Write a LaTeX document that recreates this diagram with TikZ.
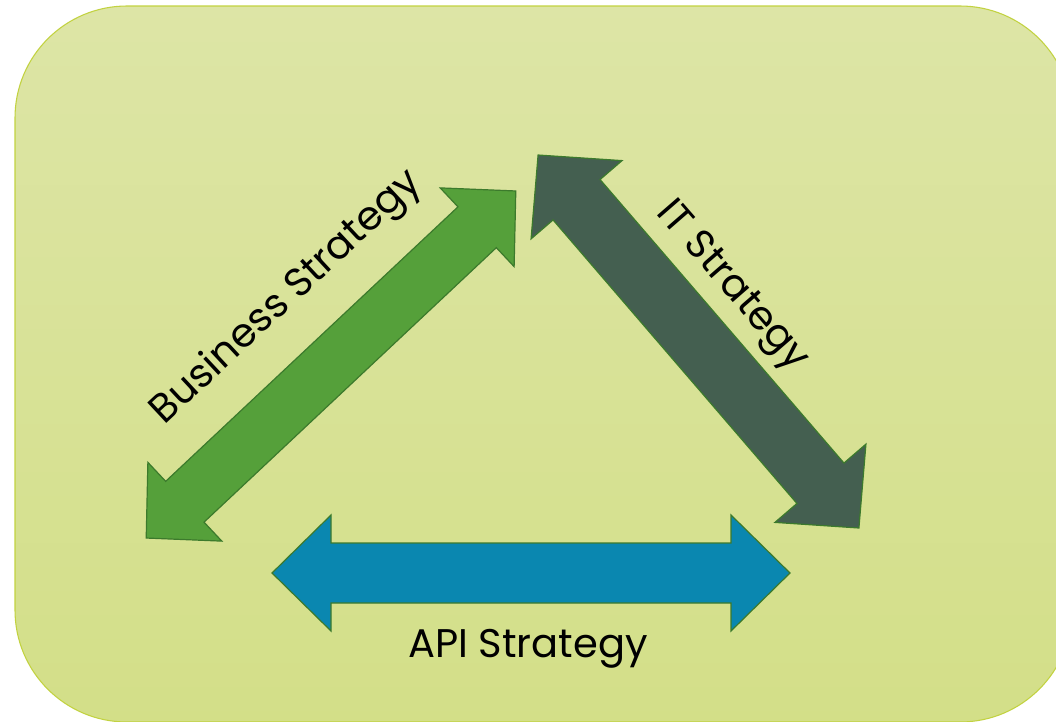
\documentclass[tikz,border=0pt]{standalone}
\usepackage{fontspec}
\setmainfont{Poppins}
\usepackage{xcolor}

\definecolor{panelTop}{HTML}{DDE5A6}
\definecolor{panelBottom}{HTML}{D3DF88}
\definecolor{panelEdge}{HTML}{C2D240}
\definecolor{bizGreen}{HTML}{55A03A}
\definecolor{itSlate}{HTML}{445F50}
\definecolor{apiBlue}{HTML}{0A87B0}
\definecolor{arrowEdge}{HTML}{3C7A2C}

\tikzset{
  panel/.style={draw=panelEdge, line width=0.8pt, top color=panelTop,
    bottom color=panelBottom, rounded corners=84pt},
  arrowbody/.style={draw=arrowEdge, line width=0.9pt, line join=miter},
  strategy/.style={font=\fontsize{30}{35}\selectfont, text=black, inner sep=0pt},
}

% #1 fill, #2 centre, #3 angle, #4 half length, #5 head length,
% #6 half head width, #7 half shaft width
\newcommand\blockarrow[7]{%
  \draw[arrowbody, fill=#1, shift={#2}, rotate=#3]
    (-#4,0) -- (-#4+#5,#6) -- (-#4+#5,#7) -- (#4-#5,#7) -- (#4-#5,#6)
    -- (#4,0) -- (#4-#5,-#6) -- (#4-#5,-#7) -- (-#4+#5,-#7)
    -- (-#4+#5,-#6) -- cycle;
}

\begin{document}
\begin{tikzpicture}[x=0.75pt, y=-0.75pt]
  \useasboundingbox (0,0) rectangle (1056,721);
  \clip (0,0) rectangle (1056,721);
  % background panel
  \draw[panel] (15,6) rectangle (1072,722);
  % arrows
  \coordinate (biz) at (331,364.5);
  \coordinate (it) at (698.5,341.5);
  \coordinate (api) at (531,573);
  \blockarrow{bizGreen}{(biz)}{43.2}{253.5}{53}{54}{28}
  \blockarrow{itSlate}{(it)}{-49.3}{246}{59}{60}{31}
  \blockarrow{apiBlue}{(api)}{0}{259}{59}{58}{30}
  % labels
  \node[strategy, rotate=43] (bizLabel) at (287,298) {Business Strategy};
  \node[strategy, rotate=-49] (itLabel) at (731,287) {IT Strategy};
  \node[strategy, anchor=base] (apiLabel) at (528,657) {API Strategy};
\end{tikzpicture}
\end{document}
